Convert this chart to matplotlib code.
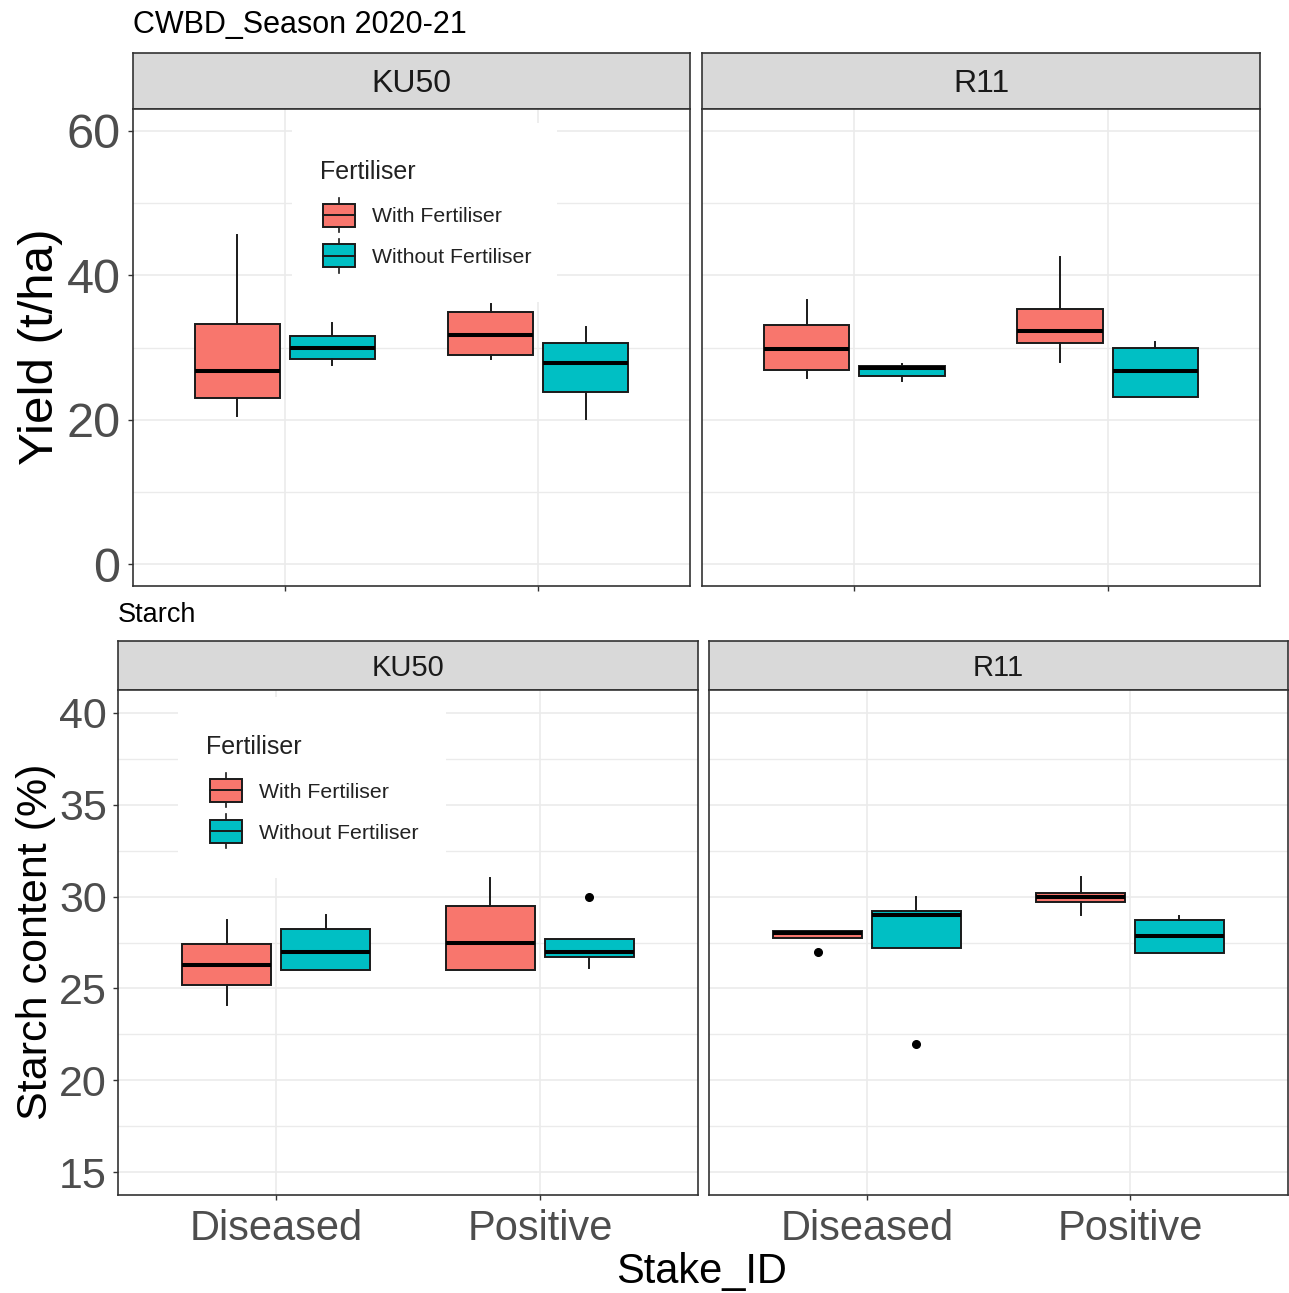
import numpy as np
import matplotlib.pyplot as plt
from matplotlib.patches import Rectangle

plt.rcParams['font.family'] = ['Liberation Sans', 'DejaVu Sans']

# categories
varieties = ['KU50', 'R11']
stake_ids = ['Diseased', 'Positive']
fertilisers = ['With Fertiliser', 'Without Fertiliser']
fert_colors = ['#F8766D', '#00BFC4']

# box summaries per stake id: [whisker low, Q1, median, Q3, whisker high]
yield_ku50_with = [[20.5, 23.0, 26.8, 33.3, 45.5], [28.4, 28.9, 31.7, 34.9, 36.0]]
yield_ku50_without = [[27.6, 28.4, 30.0, 31.6, 33.4], [20.1, 23.9, 27.8, 30.6, 32.9]]
yield_r11_with = [[25.8, 26.9, 29.8, 33.1, 36.6], [28.0, 30.6, 32.3, 35.3, 42.5]]
yield_r11_without = [[25.4, 26.1, 27.2, 27.5, 27.7], [23.2, 23.2, 26.8, 29.9, 30.7]]

starch_ku50_with = [[24.1, 25.2, 26.3, 27.4, 28.7], [26.0, 26.0, 27.5, 29.5, 31.0]]
starch_ku50_without = [[26.0, 26.0, 27.0, 28.25, 29.0], [26.1, 26.7, 27.0, 27.7, 27.7]]
starch_r11_with = [[27.75, 27.75, 28.02, 28.1, 28.1], [29.0, 29.7, 30.0, 30.2, 31.05]]
starch_r11_without = [[27.2, 27.2, 29.0, 29.2, 30.0], [26.95, 26.95, 27.85, 28.75, 28.95]]

# outliers per stake id
starch_ku50_with_out = [[], []]
starch_ku50_without_out = [[], [30.0]]
starch_r11_with_out = [[27.0], []]
starch_r11_without_out = [[22.0], []]
no_outliers = [[], []]

yield_ticks = [0, 20, 40, 60]
starch_ticks = [15, 20, 25, 30, 35, 40]

W, H = 1289, 1293
fig = plt.figure(figsize=(W / 100, H / 100), dpi=100)

EDGE = '#333333'
GRID = '#EBEBEB'
DODGE = 0.1875
BOX_W = 0.3375


def px_axes(x0, y0, x1, y1):
    return fig.add_axes([x0 / W, 1 - y1 / H, (x1 - x0) / W, (y1 - y0) / H])


def draw_boxes(ax, groups):
    # groups: list of (summaries, outliers, colour, dodge offset)
    for summ, outl, color, off in groups:
        stats = []
        for s, o in zip(summ, outl):
            stats.append(dict(whislo=s[0], q1=s[1], med=s[2], q3=s[3],
                              whishi=s[4], fliers=np.array(o)))
        ax.bxp(stats, positions=np.arange(1, len(stats) + 1) + off,
               widths=BOX_W, patch_artist=True, showcaps=False,
               manage_ticks=False,
               boxprops=dict(facecolor=color, edgecolor='#1A1A1A', linewidth=1.4),
               medianprops=dict(color='#000000', linewidth=2.9, solid_capstyle='butt'),
               whiskerprops=dict(color='#1A1A1A', linewidth=1.4),
               flierprops=dict(marker='o', markerfacecolor='#000000',
                               markeredgecolor='#000000', markersize=5.5))


def style_panel(ax, ylim, ticks, show_y, show_xlabels, size, ypad):
    ax.set_xlim(0.4, 2.6)
    ax.set_ylim(*ylim)
    ax.set_xticks([1, 2])
    ax.set_xticklabels(stake_ids)
    ax.set_yticks(ticks)
    minor = [(a + b) / 2 for a, b in zip(ticks[:-1], ticks[1:])]
    ax.set_yticks(minor, minor=True)
    ax.grid(which='major', color=GRID, linewidth=1.2)
    ax.grid(which='minor', axis='y', color=GRID, linewidth=1.0)
    ax.set_axisbelow(True)
    for sp in ax.spines.values():
        sp.set_color(EDGE)
        sp.set_linewidth(1.2)
    ax.tick_params(which='minor', length=0)
    ax.tick_params(which='major', length=3.5, width=1.0, color=EDGE,
                   labelcolor='#4D4D4D', labelsize=size)
    ax.tick_params(axis='y', pad=ypad)
    if not show_y:
        ax.tick_params(axis='y', left=False, labelleft=False)
    if not show_xlabels:
        ax.tick_params(axis='x', labelbottom=False)


def strip(x0, y0, x1, y1, label, size):
    ax = px_axes(x0, y0, x1, y1)
    ax.set_facecolor('#D9D9D9')
    ax.set_xticks([])
    ax.set_yticks([])
    for sp in ax.spines.values():
        sp.set_color(EDGE)
        sp.set_linewidth(1.2)
    ax.text(0.5, 0.45, label, transform=ax.transAxes, ha='center', va='center',
            fontsize=size, color='#1A1A1A')


def legend_box(x0, y0, x1, y1, title_xy, key_x, key_ys, label_x):
    ax = px_axes(x0, y0, x1, y1)
    ax.set_xlim(x0, x1)
    ax.set_ylim(y1, y0)
    ax.axis('off')
    ax.add_patch(Rectangle((x0, y0), x1 - x0, y1 - y0, facecolor='white',
                           edgecolor='none', zorder=0))
    ax.text(title_xy[0], title_xy[1], 'Fertiliser', ha='left', va='center',
            fontsize=18, color='#222222')
    for cy, lab, col in zip(key_ys, fertilisers, fert_colors):
        ax.plot([key_x + 16, key_x + 16], [cy - 17, cy + 17], color='#1A1A1A', lw=1.2)
        ax.add_patch(Rectangle((key_x, cy - 11.5), 32, 23, facecolor=col,
                               edgecolor='#1A1A1A', linewidth=1.4, zorder=3))
        ax.plot([key_x, key_x + 32], [cy, cy], color='#1A1A1A', lw=1.4, zorder=4)
        ax.text(label_x, cy + 2, lab, ha='left', va='center', fontsize=15.3,
                color='#222222')


# ---- Yield ----
fig.text(133 / W, 1 - 25 / H, 'CWBD_Season 2020-21', ha='left', va='center',
         fontsize=22, color='black')

yield_panels = [
    (varieties[0], 133, 690, yield_ku50_with, yield_ku50_without),
    (varieties[1], 702, 1260, yield_r11_with, yield_r11_without),
]
for i, (name, x0, x1, w_data, wo_data) in enumerate(yield_panels):
    strip(x0, 53, x1, 109, name, 23)
    ax = px_axes(x0, 109, x1, 586)
    draw_boxes(ax, [(w_data, no_outliers, fert_colors[0], -DODGE),
                    (wo_data, no_outliers, fert_colors[1], DODGE)])
    style_panel(ax, (-3, 63), yield_ticks, i == 0, False, 35, 5.5)

legend_box(292, 123, 557, 302, (320, 172), 323, [215, 256], 372)
fig.text(41 / W, 1 - 347 / H, 'Yield (t/ha)', rotation=90, ha='center',
         va='center', fontsize=35.5, color='black')

# ---- Starch ----
fig.text(118 / W, 1 - 615 / H, 'Starch', ha='left', va='center',
         fontsize=19.5, color='black')

starch_panels = [
    (varieties[0], 118, 698, starch_ku50_with, starch_ku50_without,
     starch_ku50_with_out, starch_ku50_without_out),
    (varieties[1], 709, 1288, starch_r11_with, starch_r11_without,
     starch_r11_with_out, starch_r11_without_out),
]
for i, (name, x0, x1, w_data, wo_data, w_out, wo_out) in enumerate(starch_panels):
    strip(x0, 641, x1, 690, name, 21)
    ax = px_axes(x0, 690, x1, 1195)
    draw_boxes(ax, [(w_data, w_out, fert_colors[0], -DODGE),
                    (wo_data, wo_out, fert_colors[1], DODGE)])
    style_panel(ax, (13.75, 41.25), starch_ticks, i == 0, True, 31, 4.5)
    ax.tick_params(axis='x', labelsize=30, pad=6.5)

legend_box(178, 697, 446, 878, (206, 747), 210, [790, 831], 259)
fig.text(36 / W, 1 - 942 / H, 'Starch content (%)', rotation=90, ha='center',
         va='center', fontsize=31, color='black')
fig.text(702 / W, 1 - 1272 / H, 'Stake_ID', ha='center', va='center',
         fontsize=30, color='black')

fig.savefig('out.png', dpi=100, facecolor='white')
